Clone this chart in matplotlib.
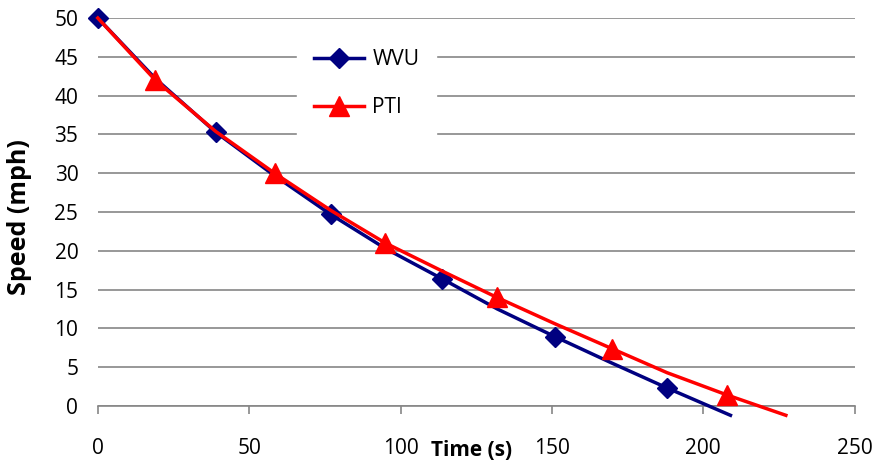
import matplotlib.pyplot as plt
import numpy as np

plt.rcParams['font.family'] = ['Open Sans', 'DejaVu Sans']

# WVU 数据 (时间 s, 速度 mph)
wvu_t = [0, 19, 38.9, 58, 76.9, 95, 113.7, 132, 151.2, 170, 188.2, 209]
wvu_v = [50, 42.2, 35.3, 29.8, 24.7, 20.3, 16.4, 12.5, 8.9, 5.5, 2.3, -1.2]
wvu_marks = [0, 2, 4, 6, 8, 10]

# PTI 数据
pti_t = [0, 19, 38.9, 58.4, 77, 95, 113.7, 131.8, 151, 169.8, 188, 208, 227.3]
pti_v = [50, 42.0, 35.4, 30.0, 25.2, 21.0, 17.4, 14.0, 10.6, 7.4, 4.3, 1.4, -1.2]
pti_marks = [1, 3, 5, 7, 9, 11]

x_ticks = [0, 50, 100, 150, 200, 250]
y_ticks = [0, 5, 10, 15, 20, 25, 30, 35, 40, 45, 50]

fig = plt.figure(figsize=(8.81, 4.68), dpi=100)
ax = fig.add_axes([0.111, 0.1325, 0.859, 0.829])

ax.plot(wvu_t, wvu_v, color='#000080', lw=2.5, marker='D', markersize=10,
        markevery=wvu_marks, label='WVU', clip_on=False, zorder=3)
ax.plot(pti_t, pti_v, color='#FF0000', lw=2.5, marker='^', markersize=14,
        markevery=pti_marks, label='PTI', clip_on=False, zorder=4)

ax.set_xlim(0, 250)
ax.set_ylim(0, 50)
ax.set_xticks(x_ticks)
ax.set_yticks(y_ticks)
ax.grid(axis='y', color='#868686', lw=1.2)
ax.set_axisbelow(True)

for s in ['top', 'right', 'left']:
    ax.spines[s].set_visible(False)
ax.spines['bottom'].set_color('#868686')
ax.spines['bottom'].set_linewidth(1.2)
ax.tick_params(axis='x', length=6, color='#868686', width=1.2, labelsize=15, pad=17)
ax.tick_params(axis='y', length=0, labelsize=15, pad=14)

ax.set_xlabel('Time (s)', fontsize=15, fontweight='bold')
ax.set_ylabel('Speed (mph)', fontsize=18, fontweight='bold')
ax.xaxis.set_label_coords(0.494, -0.088)
ax.yaxis.set_label_coords(-0.087, 0.487)

leg = ax.legend(loc='upper left', bbox_to_anchor=(0.25, 0.99), frameon=True,
                fontsize=15, handlelength=2.4, handletextpad=0.4,
                labelspacing=1.3, borderpad=0.8, edgecolor='white', fancybox=False)
leg.get_frame().set_alpha(1)

plt.savefig('out.png', dpi=100)
